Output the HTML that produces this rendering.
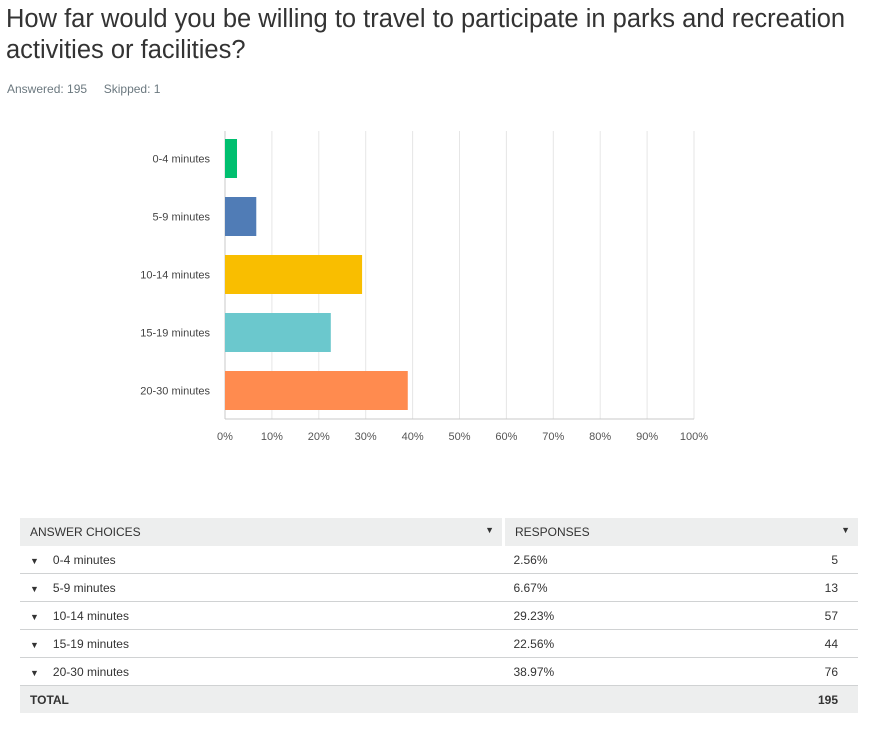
<!DOCTYPE html>
<html><head><meta charset="utf-8"><style>
body{margin:0;width:876px;height:741px;background:#fff;font-family:"Liberation Sans",sans-serif;position:relative;overflow:hidden}
.t{position:absolute;left:6px;top:4px;font-size:25.5px;line-height:31px;color:#333;width:866px}
.sub{position:absolute;left:7px;top:82px;font-size:12px;color:#6b787f}
table{position:absolute;left:20px;top:518px;width:838px;border-collapse:collapse;font-size:12px;color:#333}
td{height:27px;border-bottom:1px solid #d0d2d3;padding:0}
tr.h td{background:#edeeee;border-bottom:none;height:28px}
tr.tot td{background:#edeeee;border-bottom:none;height:27px;font-weight:bold}
.c1{padding-left:10px;width:472px}
.c2{padding-left:10px}
.c3{text-align:right;padding-right:20px}
.ar{font-size:9px;margin-right:14px;color:#333}
</style></head><body>
<div class="t">How far would you be willing to travel to participate in parks and recreation activities or facilities?</div>
<div class="sub">Answered: 195 &nbsp;&nbsp;&nbsp; Skipped: 1</div>
<svg id="chart" width="876" height="460" style="position:absolute;left:0;top:0"></svg>
<table>
<tr class="h"><td class="c1" style="border-right:3px solid #fff">ANSWER CHOICES<span style="float:right;margin-right:8px;font-size:9px">▼</span></td><td class="c2" colspan="2">RESPONSES<span style="float:right;margin-right:8px;font-size:9px">▼</span></td></tr>
<tr><td class="c1"><span class="ar">▼</span>0-4 minutes</td><td class="c2">2.56%</td><td class="c3">5</td></tr>
<tr><td class="c1"><span class="ar">▼</span>5-9 minutes</td><td class="c2">6.67%</td><td class="c3">13</td></tr>
<tr><td class="c1"><span class="ar">▼</span>10-14 minutes</td><td class="c2">29.23%</td><td class="c3">57</td></tr>
<tr><td class="c1"><span class="ar">▼</span>15-19 minutes</td><td class="c2">22.56%</td><td class="c3">44</td></tr>
<tr><td class="c1"><span class="ar">▼</span>20-30 minutes</td><td class="c2">38.97%</td><td class="c3">76</td></tr>
<tr class="tot"><td class="c1">TOTAL</td><td></td><td class="c3">195</td></tr>
</table>
<script>
const categories=["0-4 minutes","5-9 minutes","10-14 minutes","15-19 minutes","20-30 minutes"];
const values=[2.56,6.67,29.23,22.56,38.97];
const colors=["#00bf6f","#507cb6","#f9be00","#6bc8cd","#ff8b4f"];
const ticks=[0,10,20,30,40,50,60,70,80,90,100];
const NS="http://www.w3.org/2000/svg";
const svg=document.getElementById('chart');
const x0=225,x1=694,yTop=131,yAxis=419,band=58,bh=39,firstTop=139;
const xs=v=>x0+(x1-x0)*v/100;
function mk(t,a){const e=document.createElementNS(NS,t);for(const k in a)e.setAttribute(k,a[k]);svg.appendChild(e);return e;}
ticks.forEach(t=>{
  const g=mk('line',{x1:xs(t),x2:xs(t),y1:yTop,y2:yAxis,stroke:t===0?'#c8c8c8':'#e6e6e6','stroke-width':1});
  
  
  const l=mk('text',{x:xs(t),y:440,'text-anchor':'middle','font-size':11,fill:'#555','font-family':'Liberation Sans, sans-serif'});
  l.textContent=t+'%';
  
  
});
const ax=mk('line',{x1:x0,x2:x1,y1:yAxis,y2:yAxis,stroke:'#c8c8c8'});


categories.forEach((c,i)=>{
  const y=firstTop+i*band;
  const r=mk('rect',{x:x0,y:y,width:xs(values[i])-x0,height:bh,fill:colors[i]});
  
  
  const l=mk('text',{x:210,y:y+bh/2+4,'text-anchor':'end','font-size':11,fill:'#444','font-family':'Liberation Sans, sans-serif'});
  l.textContent=c;
  
  
});
</script>
</body></html>
